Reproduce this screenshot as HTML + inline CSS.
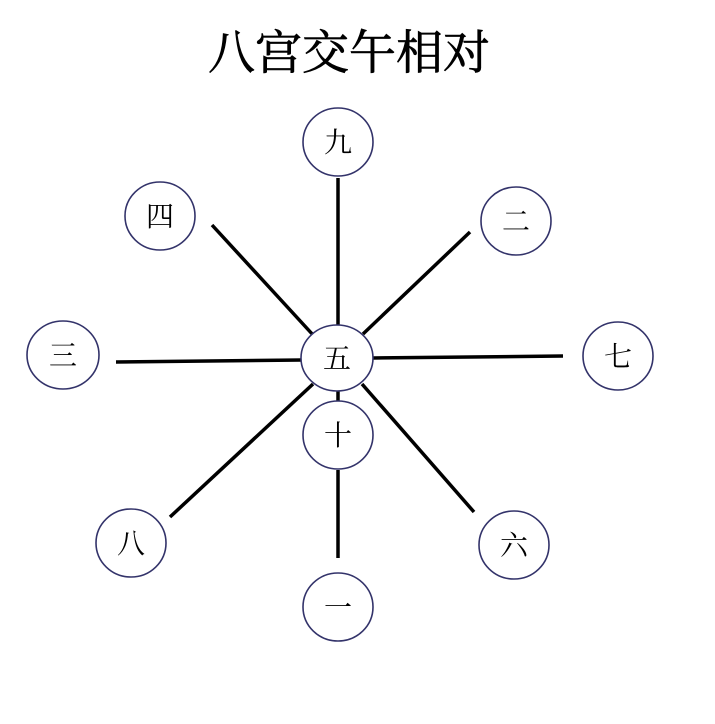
<!DOCTYPE html>
<html><head><meta charset="utf-8"><style>
html,body{margin:0;padding:0;background:#fff;}
</style></head><body>
<svg width="715" height="719" viewBox="0 0 715 719" xmlns="http://www.w3.org/2000/svg">
<text x="349" y="69" text-anchor="middle" font-family="'Liberation Serif','Noto Serif CJK SC',serif" font-size="47" fill="#000" stroke="#000" stroke-width="0.7">八宫交午相对</text>
<g stroke="#000" stroke-width="3.5">
<line x1="338" y1="178" x2="338" y2="325"/>
<line x1="212" y1="225" x2="314" y2="336"/>
<line x1="470" y1="232" x2="363" y2="334"/>
<line x1="116" y1="362" x2="302" y2="360"/>
<line x1="373" y1="358" x2="563" y2="356"/>
<line x1="170" y1="517" x2="313" y2="384"/>
<line x1="474" y1="512" x2="362" y2="384"/>
<line x1="338" y1="391" x2="338" y2="401"/>
<line x1="338" y1="470" x2="338" y2="558"/>
</g>
<g fill="#fff" stroke="#33336a" stroke-width="1.6">
<ellipse cx="338" cy="142" rx="35" ry="34"/>
<ellipse cx="160" cy="216" rx="35" ry="34"/>
<ellipse cx="516" cy="221" rx="35" ry="34"/>
<ellipse cx="63" cy="355" rx="36" ry="34"/>
<ellipse cx="337" cy="358" rx="36" ry="33"/>
<ellipse cx="618" cy="356" rx="35" ry="34"/>
<ellipse cx="338" cy="435" rx="35" ry="34"/>
<ellipse cx="131" cy="543" rx="35" ry="34"/>
<ellipse cx="514" cy="545" rx="35" ry="34"/>
<ellipse cx="338" cy="607" rx="35" ry="34"/>
</g>
<g font-family="'Liberation Serif','Noto Serif CJK SC',serif" font-size="28" fill="#000" text-anchor="middle">
<text x="338" y="152">九</text>
<text x="160" y="226">四</text>
<text x="516" y="231">二</text>
<text x="63" y="365">三</text>
<text x="337" y="368">五</text>
<text x="618" y="366">七</text>
<text x="338" y="445">十</text>
<text x="131" y="553">八</text>
<text x="514" y="555">六</text>
<text x="338" y="617">一</text>
</g>
</svg>
</body></html>
